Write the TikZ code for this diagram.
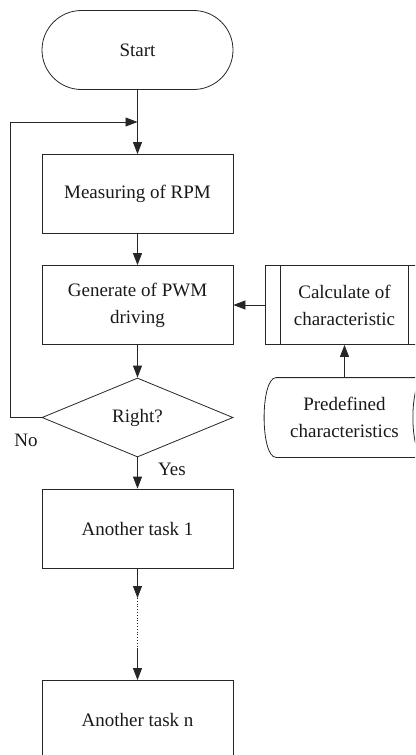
\documentclass[tikz,border=0pt]{standalone}
\usepackage{fontspec}
\setmainfont{Liberation Serif}
\usetikzlibrary{arrows.meta,shapes.geometric}
\tikzset {>={Triangle[length=12pt,width=9pt]}}

\begin{document}
\begin{tikzpicture}[x=1pt,y=-1pt,line width=.8pt,draw=black!85,
  every node/.style={font=\fontsize{19}{27}\selectfont,align=center,text=black!90},
  procbox/.style={draw,minimum width=191pt,minimum height=79pt,inner sep=0pt},
  termbox/.style={procbox,rounded corners=39.5pt},
  decbox/.style={draw,diamond,aspect=2.4,minimum width=191pt,minimum height=79pt,inner sep=0pt},
  subbox/.style={procbox,minimum width=159pt},
  storebox/.style={minimum width=160pt,minimum height=79pt,inner sep=0pt}]
\useasboundingbox (0,0) rectangle (415,755);
\clip (0,0) rectangle (415,755);
% main column
\node[termbox] (start) at (137.5,50) {Start};
\node[procbox] (measure) at (137.5,194) {Measuring of RPM};
\node[procbox] (gen) at (137.5,305) {Generate of PWM\\driving};
\node[decbox] (right) at (137.5,417.5) {Right?};
\node[procbox] (task1) at (137.5,528.5) {Another task 1};
\node[procbox] (taskn) at (137.5,720) {Another task n};
% side branch
\node[subbox] (calc) at (344.5,305) {Calculate of\\characteristic};
\draw ([xshift=16pt]calc.north west) -- ([xshift=16pt]calc.south west);
\draw ([xshift=-16pt]calc.north east) -- ([xshift=-16pt]calc.south east);
\node[storebox] (pre) at (344.5,417.5) {Predefined\\characteristics};
\draw ([xshift=12pt]pre.north west) -- (pre.north east)
  .. controls ([xshift=-16pt]pre.north east) and ([xshift=-16pt]pre.south east) .. (pre.south east)
  -- ([xshift=12pt]pre.south west)
  .. controls ([xshift=-4pt]pre.south west) and ([xshift=-4pt]pre.north west) .. cycle;
% labels
\node (no) at (26,440) {No};
\node (yes) at (172,469) {Yes};
% connectors
\coordinate (join) at (137.5,122);
\coordinate (back) at (10,122);
\coordinate (dotA) at (137.5,598);
\coordinate (dotB) at (137.5,648);
\draw[->] (start) -- (measure);
\draw[->] (measure) -- (gen);
\draw[->] (gen) -- (right);
\draw[->] (right) -- (task1);
\draw[->] (right.west) -| (back) -- (join);
\draw[->] (calc) -- (gen);
\draw[->] (pre) -- (calc);
\draw[->] (task1) -- (dotA);
\draw[dotted] (dotA) -- (dotB);
\draw[->] (dotB) -- (taskn);
\end{tikzpicture}
\end{document}
